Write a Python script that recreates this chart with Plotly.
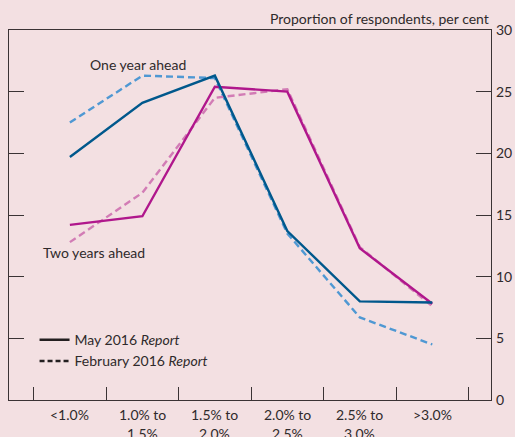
import plotly.graph_objects as go

# Inflation expectation buckets
categories = ["<1.0%", "1.0% to<br>1.5%", "1.5% to<br>2.0%", "2.0% to<br>2.5%",
              "2.5% to<br>3.0%", ">3.0%"]

# Proportion of respondents, per cent
one_year_may = [19.7, 24.1, 26.3, 13.7, 8.0, 7.9]
one_year_feb = [22.5, 26.3, 26.1, 13.5, 6.7, 4.5]
two_year_may = [14.2, 14.9, 25.4, 25.0, 12.3, 7.8]
two_year_feb = [12.8, 16.8, 24.5, 25.2, 12.4, 7.6]

y_ticks = [0, 5, 10, 15, 20, 25, 30]

BG = "#f3e0e2"
AXIS = "#3a3334"
TEXT = "#2f2a2b"
FONT = "Lato"
FS = 14

x_idx = list(range(len(categories)))
boundaries = [i - 0.5 for i in range(len(categories) + 1)]

fig = go.Figure()

series = [
    (one_year_feb, "#4f98d3", "7px,4px"),
    (two_year_feb, "#d27cb5", "7px,4px"),
    (two_year_may, "#b0178c", "solid"),
    (one_year_may, "#00588c", "solid"),
]
for vals, color, dash in series:
    fig.add_trace(go.Scatter(x=x_idx, y=vals, mode="lines", showlegend=False,
                             line=dict(color=color, width=2.4, dash=dash),
                             hoverinfo="skip"))

# Legend keys
fig.add_trace(go.Scatter(x=[None], y=[None], mode="lines", name="May 2016 <i>Report</i>",
                         line=dict(color="#231f20", width=2.4)))
fig.add_trace(go.Scatter(x=[None], y=[None], mode="lines", name="February 2016 <i>Report</i>",
                         line=dict(color="#231f20", width=2.4, dash="5px,3px")))

fig.update_layout(
    width=515, height=437,
    margin=dict(l=9, r=24, t=30, b=37, autoexpand=False),
    paper_bgcolor=BG, plot_bgcolor=BG,
    font=dict(family=FONT, size=FS, color=TEXT),
    showlegend=True,
    legend=dict(x=0.053, y=0.205, xanchor="left", yanchor="top",
                bgcolor="rgba(0,0,0,0)", font=dict(size=FS, color=TEXT),
                tracegroupgap=0, itemwidth=30),
    xaxis=dict(range=[-0.84, 5.81], tickmode="array", tickvals=boundaries,
               showticklabels=False, ticks="inside", ticklen=13, tickwidth=1.3,
               tickcolor=AXIS, showline=True, linecolor=AXIS, linewidth=1.3,
               mirror=True, showgrid=False, zeroline=False, automargin=False),
    yaxis=dict(range=[0, 30], side="right", tickmode="array", tickvals=y_ticks,
               ticks="inside", ticklen=15, tickwidth=1.3, tickcolor=AXIS,
               showline=True, linecolor=AXIS, linewidth=1.3, mirror="ticks",
               showgrid=False, zeroline=False, ticklabelstandoff=1,
               automargin=False, tickfont=dict(size=FS, color=TEXT)),
)

# Category labels below the axis, one annotation per text line
for i, cat in enumerate(categories):
    for j, line in enumerate(cat.split("<br>")):
        fig.add_annotation(text=line, xref="x", yref="paper", x=i, y=0,
                           yanchor="middle", yshift=-14 - 19 * j,
                           showarrow=False, font=dict(size=FS, color=TEXT))

fig.add_annotation(text="Proportion of respondents, per cent", xref="paper", yref="paper",
                   x=1.0, y=1.0, xanchor="right", yanchor="bottom", yshift=1,
                   showarrow=False, font=dict(size=FS, color=TEXT))
fig.add_annotation(text="One year ahead", xref="x", yref="y", x=0.94, y=27.2,
                   showarrow=False, font=dict(size=FS, color=TEXT))
fig.add_annotation(text="Two years ahead", xref="x", yref="y", x=0.33, y=12.0,
                   showarrow=False, font=dict(size=FS, color=TEXT))

fig.write_html("out.html")
